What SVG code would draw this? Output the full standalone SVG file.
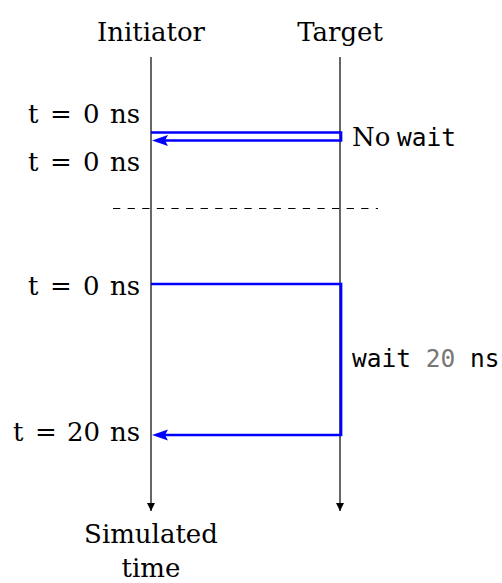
<svg xmlns="http://www.w3.org/2000/svg" width="502" height="583" viewBox="0 0 502 583">
<style>
.serif{font-family:"DejaVu Serif","Liberation Serif",serif;font-size:26px;fill:#000}
.mono{font-family:"DejaVu Sans Mono","Liberation Mono",monospace;font-size:24.5px;fill:#000}
.life{stroke:#000;stroke-width:1.2;fill:none}
.msg{stroke:#0000ff;stroke-width:2.7;fill:none;stroke-linejoin:miter}
.gray{fill:#777}
</style>
<defs>
<marker id="blk" viewBox="0 0 10 10" refX="10" refY="5" markerWidth="8" markerHeight="8" markerUnits="userSpaceOnUse" orient="auto">
<path d="M0,0 L10,5 L0,10 Z" fill="#000"/>
</marker>
</defs>
<g id="initiator">
<text class="serif" x="151" y="41" text-anchor="middle">Initiator</text>
</g>
<g id="target">
<text class="serif" x="340" y="41" text-anchor="middle">Target</text>
</g>
<g id="time-label">
<text class="serif" x="151" y="543" text-anchor="middle">Simulated</text>
<text class="serif" x="151" y="577" text-anchor="middle">time</text>
</g>
<g id="labels">
<text class="serif" y="123"><tspan x="28">t</tspan> <tspan x="50">=</tspan> <tspan x="83">0</tspan> <tspan x="110">ns</tspan></text>
<text class="serif" y="171"><tspan x="28">t</tspan> <tspan x="50">=</tspan> <tspan x="83">0</tspan> <tspan x="110">ns</tspan></text>
<text class="serif" y="295"><tspan x="28">t</tspan> <tspan x="50">=</tspan> <tspan x="83">0</tspan> <tspan x="110">ns</tspan></text>
<text class="serif" y="441"><tspan x="13">t</tspan> <tspan x="35">=</tspan> <tspan x="67">20</tspan> <tspan x="110">ns</tspan></text>
<text x="352" y="146"><tspan class="serif">No</tspan> <tspan class="mono" x="397">wait</tspan></text>
<text class="mono" x="352" y="367">wait <tspan class="gray">20</tspan> ns</text>
</g>
<g id="connectors">
<line class="life" x1="151" y1="57" x2="151" y2="511" marker-end="url(#blk)"/>
<line class="life" x1="340" y1="57" x2="340" y2="511" marker-end="url(#blk)"/>
<line x1="113" y1="208.5" x2="378" y2="208.5" stroke="#000" stroke-width="1" stroke-dasharray="7.3,7.3"/>
<path class="msg" d="M151,132.5 H341 V140.5 H162"/>
<path d="M152,140.5 L168,135 L165,140.5 L168,146 Z" fill="#0000ff"/>
<path class="msg" d="M151,284 H341 V435 H162"/>
<path d="M152,435 L168,429.5 L165,435 L168,440.5 Z" fill="#0000ff"/>
</g>
</svg>
